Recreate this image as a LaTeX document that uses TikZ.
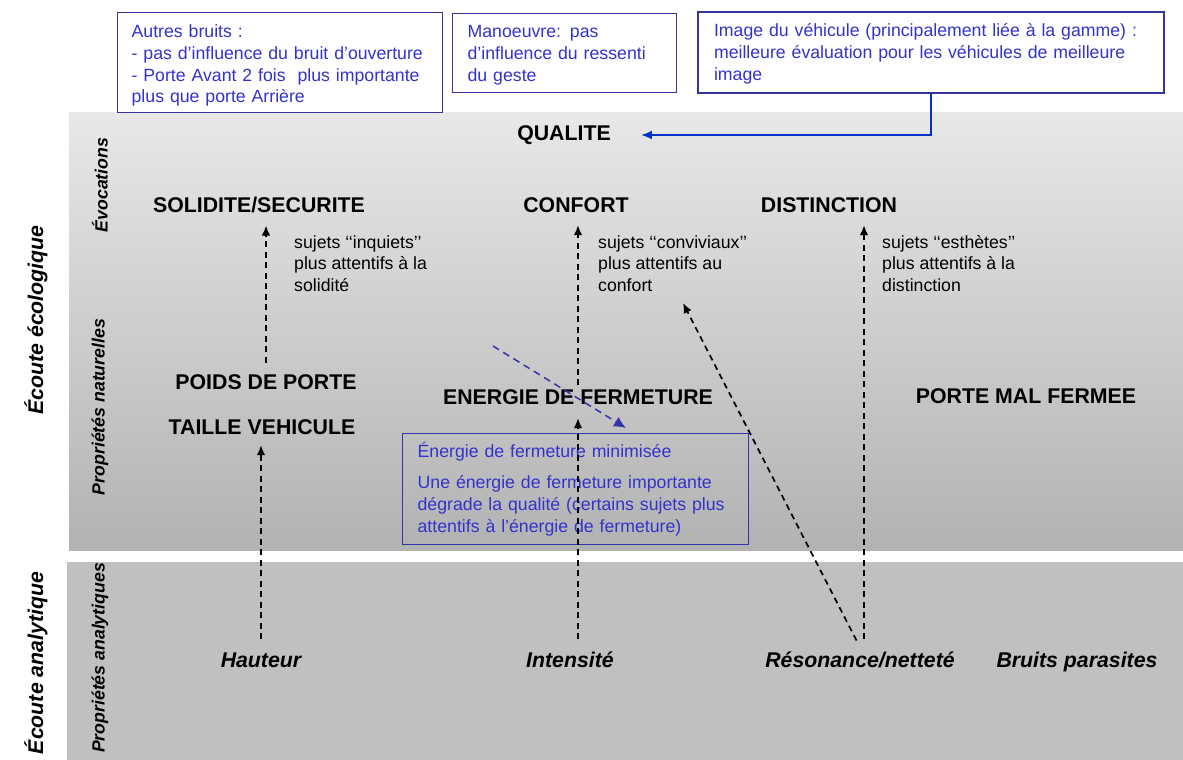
\documentclass[tikz,border=0pt]{standalone}
\usepackage{fontspec}
\setmainfont{Liberation Sans}
\usetikzlibrary{arrows.meta}
\definecolor{bluetext}{RGB}{51,51,204}
\definecolor{boxline}{RGB}{51,51,153}
\definecolor{conn}{RGB}{0,51,204}
\definecolor{bluedashc}{RGB}{51,51,170}
\definecolor{paneltop}{RGB}{232,232,232}
\definecolor{panelbot}{RGB}{178,178,178}
\definecolor{panellow}{RGB}{192,192,192}
\tikzset{
  big/.style={font=\fontsize{21.3}{25}\selectfont\bfseries, inner sep=0pt},
  smalltxt/.style={font=\fontsize{17.7}{21.7}\selectfont, inner sep=0pt, align=left, anchor=north west},
  ana/.style={font=\fontsize{21.3}{25}\selectfont\bfseries\itshape, inner sep=0pt, anchor=base},
  side/.style={font=\fontsize{21.3}{25}\selectfont\bfseries\itshape, rotate=90, inner sep=0pt},
  sub/.style={font=\fontsize{17.7}{21}\selectfont\bfseries\itshape, rotate=90, inner sep=0pt},
  note/.style={draw=boxline, line width=1.3pt, text=bluetext, font=\fontsize{17.7}{21.7}\selectfont,
    align=left, anchor=north west, inner xsep=14pt, inner ysep=0pt},
  darr/.style={draw=black, line width=1.7pt, dash pattern=on 6pt off 4.5pt, -{Latex[length=10pt,width=8.5pt]}},
  bluedash/.style={draw=bluedashc, line width=1.5pt, dash pattern=on 7pt off 5pt, -{Latex[length=12pt,width=11pt]}},
  blueconn/.style={draw=conn, line width=2pt, -{Latex[length=11pt,width=9pt]}}
}
\begin{document}
\begin{tikzpicture}[x=1pt,y=-1pt]
\useasboundingbox (0,0) rectangle (1183,760);
\fill[white] (0,0) rectangle (1183,760);
% panels
\shade[top color=paneltop, bottom color=panelbot] (69,112) rectangle (1183,550);
\fill[panellow] (67,562) rectangle (1183,760);

% side labels
\node[side] (ecolo) at (36,320) {Écoute écologique};
\node[side] (analy) at (36,663) {Écoute analytique};
\node[sub] (evoc) at (100,185) {Évocations};
\node[sub] (propnat) at (100,407) {Propriétés naturelles};
\node[sub] (propana) at (100,658) {Propriétés analytiques};

% note boxes
\node[note, text width=297pt, minimum height=100pt] (box1) at (117,12)
  {\rule{0pt}{19pt}Autres bruits :\\- pas d’influence du bruit d’ouverture\\- Porte Avant 2 fois\ \ plus importante\\plus que porte Arrière};
\node[note, inner xsep=15pt, text width=194pt, minimum height=79pt] (box2) at (452,13)
  {\rule{0pt}{16pt}Manoeuvre: pas\\d’influence du ressenti\\du geste};
\node[note, line width=2pt, inner xsep=16pt, text width=434pt, minimum height=81pt] (box3) at (697,11)
  {\rule{0pt}{16pt}Image du véhicule (principalement liée à la gamme) :\\meilleure évaluation pour les véhicules de meilleure\\image};
\node[note, inner xsep=15pt, text width=316pt, minimum height=111pt, draw=bluedashc] (box4) at (402,433)
  {Énergie de fermeture minimisée\\[9pt]Une énergie de fermeture importante\\dégrade la qualité (certains sujets plus\\attentifs à l’énergie de fermeture)};

% main labels
\node[big] (qualite) at (564,135) {QUALITE};
\node[big] (solid) at (259,205) {SOLIDITE/SECURITE};
\node[big] (confort) at (576,205) {CONFORT};
\node[big] (distinction) at (829,205) {DISTINCTION};
\node[big] (poids) at (266,382) {POIDS DE PORTE};
\node[big] (taille) at (262,427) {TAILLE VEHICULE};
\node[big] (energie) at (578,397) {ENERGIE DE FERMETURE};
\node[big] (pmf) at (1026,396) {PORTE MAL FERMEE};

% comments
\node[smalltxt] (inquiets) at (294,235) {sujets ‘‘inquiets’’\\plus attentifs à la\\solidité};
\node[smalltxt] (conviv) at (598,235) {sujets ‘‘conviviaux’’\\plus attentifs au\\confort};
\node[smalltxt] (esthetes) at (882,235) {sujets ‘‘esthètes’’\\plus attentifs à la\\distinction};

% analytic properties
\node[ana] (hauteur) at (261,667) {Hauteur};
\node[ana] (intensite) at (570,667) {Intensité};
\node[ana] (resonance) at (860,667) {Résonance/netteté};
\node[ana] (bruits) at (1077,667) {Bruits parasites};

% connectors
\draw[blueconn, shorten >=30pt] (box3.south) |- (qualite.east);
\draw[darr, shorten <=11.4pt, shorten >=12.4pt] (poids.north) -- (poids.north |- solid.south);
\draw[darr, shorten <=12.7pt, shorten >=10.4pt] (hauteur.north) -- (hauteur.north |- taille.south);
\draw[darr, shorten <=12pt, shorten >=13.4pt] (energie.south |- intensite.north) -- (energie.south);
\draw[darr, shorten <=4pt, shorten >=12.4pt] (energie.north) -- (energie.north |- confort.south);
\draw[darr, shorten <=12pt, shorten >=12.4pt] ([xshift=4pt]resonance.north) -- ([xshift=4pt]resonance.north |- distinction.south);
\coordinate (tipc) at (683,303);
\draw[darr, shorten <=12pt] ([xshift=2pt]resonance.north) -- (tipc);
\coordinate (bd0) at (493,346);
\coordinate (bd1) at (626,428);
\draw[bluedash] (bd0) -- (bd1);
\end{tikzpicture}
\end{document}
